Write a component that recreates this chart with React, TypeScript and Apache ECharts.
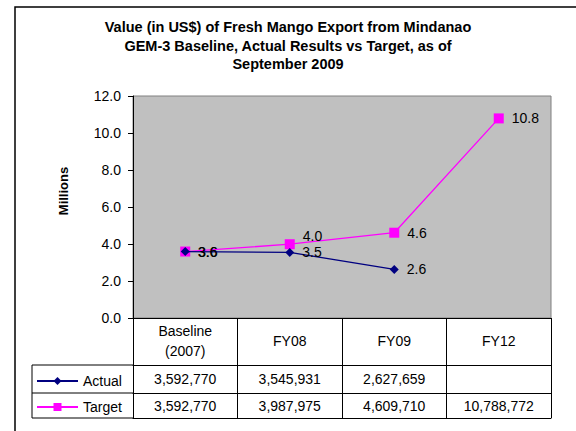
import React, { useEffect, useRef } from "react";
import * as echarts from "echarts";

// ---- data ----
const categories = ["Baseline\n(2007)", "FY08", "FY09", "FY12"];
const actualUSD: (number | null)[] = [3592770, 3545931, 2627659, null];
const targetUSD: (number | null)[] = [3592770, 3987975, 4609710, 10788772];
const seriesNames = ["Actual", "Target"];
const titleText =
  "Value (in US$) of Fresh Mango Export from Mindanao\nGEM-3 Baseline, Actual Results vs Target, as of\nSeptember 2009";
const yAxisName = "Millions";

// ---- layout ----
const W = 576;
const H = 431;
const GRID_LEFT = 133;
const GRID_RIGHT_X = 551;
const GRID_TOP = 96;
const GRID_BOTTOM_Y = 318;
const ROW1_Y = 365;
const ROW2_Y = 393;
const ROW3_Y = 418;
const LEGEND_LEFT = 32;
const FONT = "'Liberation Sans', Arial, sans-serif";

const fmtUSD = (v: number | null) =>
  v == null ? "" : v.toLocaleString("en-US");
const toMillions = (arr: (number | null)[]) =>
  arr.map((v) => (v == null ? null : v / 1e6));

export default function App() {
  const ref = useRef<HTMLDivElement>(null);

  useEffect(() => {
    if (!ref.current) return;
    const chart = echarts.init(ref.current, null, { renderer: "svg" });

    const actual = toMillions(actualUSD);
    const target = toMillions(targetUSD);

    const labelBase = {
      show: true,
      position: "right" as const,
      distance: 8,
      fontSize: 14,
      color: "#000",
      fontFamily: FONT,
      formatter: (p: any) => (p.value == null ? "" : Number(p.value).toFixed(1)),
    };

    const tableAxis = (offset: number, tickLen: number, margin: number, values: (number | null)[] | null, showLine = true) => ({
      type: "category" as const,
      position: "bottom" as const,
      gridIndex: 0,
      offset,
      data: categories,
      boundaryGap: true,
      axisLine: { show: showLine, lineStyle: { color: "#000", width: 1 } },
      axisTick: { show: tickLen > 0, length: tickLen, lineStyle: { color: "#000", width: 1 } },
      axisLabel: {
        show: values != null,
        margin,
        verticalAlign: "middle" as const,
        fontSize: 14,
        color: "#000",
        fontFamily: FONT,
        interval: 0,
        formatter: (_v: string, i: number) => (values ? fmtUSD(values[i]) : ""),
      },
      splitLine: { show: false },
    });

    const lineSeg = (x1: number, y1: number, x2: number, y2: number) => ({
      type: "line",
      shape: { x1, y1, x2, y2 },
      style: { stroke: "#000", lineWidth: 1 },
    });

    chart.setOption({
      animation: false,
      backgroundColor: "#fff",
      textStyle: { fontFamily: FONT },
      title: {
        text: titleText,
        left: 283,
        textAlign: "center",
        top: 13,
        textStyle: {
          fontSize: 14.5,
          fontWeight: "bold",
          color: "#000",
          lineHeight: 18.5,
          fontFamily: FONT,
        },
      },
      legend: {
        orient: "vertical",
        left: 31,
        top: 369,
        itemWidth: 41,
        itemHeight: 10,
        itemGap: 12,
        textStyle: { fontSize: 14, color: "#000", fontFamily: FONT },
        data: seriesNames,
        selectedMode: false,
      },
      grid: {
        left: GRID_LEFT,
        top: GRID_TOP,
        width: GRID_RIGHT_X - GRID_LEFT,
        height: GRID_BOTTOM_Y - GRID_TOP,
        show: true,
        backgroundColor: "#C0C0C0",
        borderColor: "#808080",
        borderWidth: 1,
        containLabel: false,
      },
      xAxis: [
        {
          type: "category",
          position: "bottom",
          data: categories,
          boundaryGap: true,
          axisLine: { show: true, lineStyle: { color: "#000", width: 1 } },
          axisTick: { show: true, length: ROW1_Y - GRID_BOTTOM_Y, lineStyle: { color: "#000", width: 1 } },
          axisLabel: {
            margin: 23,
            verticalAlign: "middle",
            fontSize: 14,
            lineHeight: 20,
            color: "#000",
            fontFamily: FONT,
            interval: 0,
          },
          splitLine: { show: false },
        },
        tableAxis(ROW1_Y - GRID_BOTTOM_Y, ROW2_Y - ROW1_Y, 14, actualUSD),
        tableAxis(ROW2_Y - GRID_BOTTOM_Y, ROW3_Y - ROW2_Y, 13, targetUSD),
        tableAxis(ROW3_Y - GRID_BOTTOM_Y, 0, 0, null),
      ],
      yAxis: {
        type: "value",
        min: 0,
        max: 12,
        interval: 2,
        axisLine: { show: true, lineStyle: { color: "#000", width: 1 } },
        axisTick: { show: true, length: 5, lineStyle: { color: "#000" } },
        axisLabel: {
          margin: 12,
          fontSize: 14,
          color: "#000",
          fontFamily: FONT,
          formatter: (v: number) => v.toFixed(1),
        },
        splitLine: { show: false },
      },
      series: [
        {
          name: seriesNames[0],
          type: "line",
          xAxisIndex: 0,
          data: actual,
          symbol: "diamond",
          symbolSize: 9,
          itemStyle: { color: "#000080" },
          lineStyle: { color: "#000080", width: 1.3 },
          label: labelBase,
          z: 3,
        },
        {
          name: seriesNames[1],
          type: "line",
          xAxisIndex: 0,
          data: target.map((v, i) =>
            i === 1 ? { value: v, label: { offset: [0, -8] } } : v
          ),
          symbol: "rect",
          symbolSize: 10,
          itemStyle: { color: "#FF00FF" },
          lineStyle: { color: "#FF00FF", width: 1.3 },
          label: labelBase,
          z: 2,
        },
      ],
      graphic: [
        {
          type: "rect",
          shape: { x: 15, y: 7, width: 700, height: 600 },
          style: { fill: "none", stroke: "#000", lineWidth: 1.5 },
          silent: true,
          z: -1,
        },
        {
          type: "text",
          x: 63,
          y: 191,
          rotation: Math.PI / 2,
          style: {
            text: yAxisName,
            fontSize: 13,
            fontWeight: "bold",
            fill: "#000",
            fontFamily: FONT,
            align: "center",
            verticalAlign: "middle",
          },
        },
        lineSeg(LEGEND_LEFT, ROW1_Y, GRID_LEFT, ROW1_Y),
        lineSeg(LEGEND_LEFT, ROW2_Y, GRID_LEFT, ROW2_Y),
        lineSeg(LEGEND_LEFT, ROW3_Y, GRID_LEFT, ROW3_Y),
        lineSeg(LEGEND_LEFT, ROW1_Y, LEGEND_LEFT, ROW3_Y),
      ],
    });

    return () => chart.dispose();
  }, []);

  return (
    <div
      ref={ref}
      style={{ position: "absolute", left: 0, top: 0, width: W, height: H }}
    />
  );
}
